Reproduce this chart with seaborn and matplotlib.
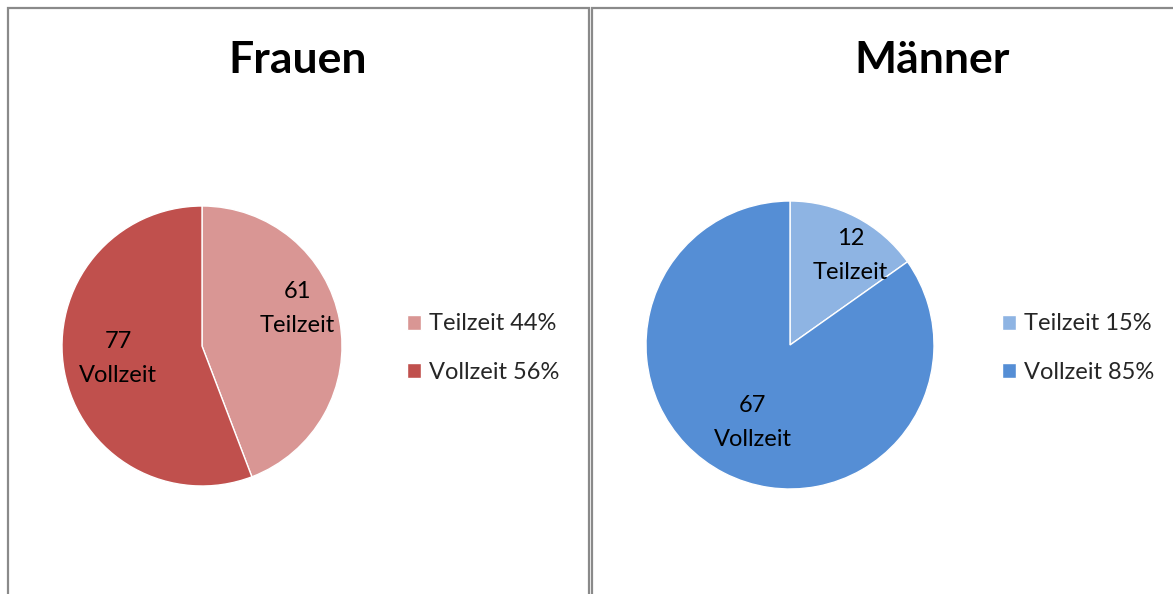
import matplotlib
matplotlib.use("Agg")
import matplotlib.pyplot as plt
import seaborn as sns
from matplotlib.patches import Rectangle

# data
categories = ["Teilzeit", "Vollzeit"]
frauen_values = [61, 77]
maenner_values = [12, 67]
frauen_colors = ["#D99694", "#C0504D"]
maenner_colors = ["#8EB4E3", "#558ED5"]

sns.set_theme(style="white")
plt.rcParams["font.family"] = ["Lato", "DejaVu Sans"]

W, H = 1173, 594
fig = plt.figure(figsize=(W / 100, H / 100), dpi=100)
fig.patch.set_facecolor("white")


def px_box(x0, y0, x1, y1):
    # pixel box (top-left origin) -> figure fraction rect
    return [x0 / W, 1 - y1 / H, (x1 - x0) / W, (y1 - y0) / H]


# panel frames (the chart areas are cropped at the bottom / right)
for x0, x1 in [(7.5, 588.5), (591.5, 1280)]:
    fig.patches.append(Rectangle((x0 / W, -0.1), (x1 - x0) / W, 1.1 - 8.5 / H,
                                 transform=fig.transFigure, fill=False,
                                 edgecolor="#8a8a8a", linewidth=1.6))


def draw_panel(box, values, colors, title, title_x, label_pos, legend_xy):
    ax = fig.add_axes(px_box(*box))
    wedges, _ = ax.pie(values, colors=colors, startangle=90, counterclock=False,
                       radius=1, wedgeprops=dict(edgecolor="white", linewidth=1))
    ax.set_xlim(-1, 1)
    ax.set_ylim(-1, 1)
    ax.axis("off")
    for cat, val, (lx, ly) in zip(categories, values, label_pos):
        ax.text(lx, ly, f"{val}\n{cat}", ha="center", va="center",
                fontsize=17, color="black", linespacing=1.75)
    total = sum(values)
    labels = [f"{c} {round(100 * v / total)}%" for c, v in zip(categories, values)]
    fig.legend(wedges, labels, loc="center left",
               bbox_to_anchor=(legend_xy[0] / W, 1 - legend_xy[1] / H),
               frameon=False, fontsize=17, handlelength=0.6, handleheight=0.6,
               handletextpad=0.35, labelspacing=1.15, borderpad=0, borderaxespad=0)
    fig.text(title_x / W, 1 - 60 / H, title, ha="center", va="center",
             fontsize=32, fontweight="bold", color="black")


draw_panel((62, 206, 342, 486), frauen_values, frauen_colors, "Frauen", 298,
           [(0.68, 0.27), (-0.60, -0.09)], (407, 348))
draw_panel((646, 201, 934, 489), maenner_values, maenner_colors, "Männer", 932,
           [(0.42, 0.62), (-0.26, -0.54)], (1002, 348))

fig.savefig("out.png", dpi=100, facecolor="white")
